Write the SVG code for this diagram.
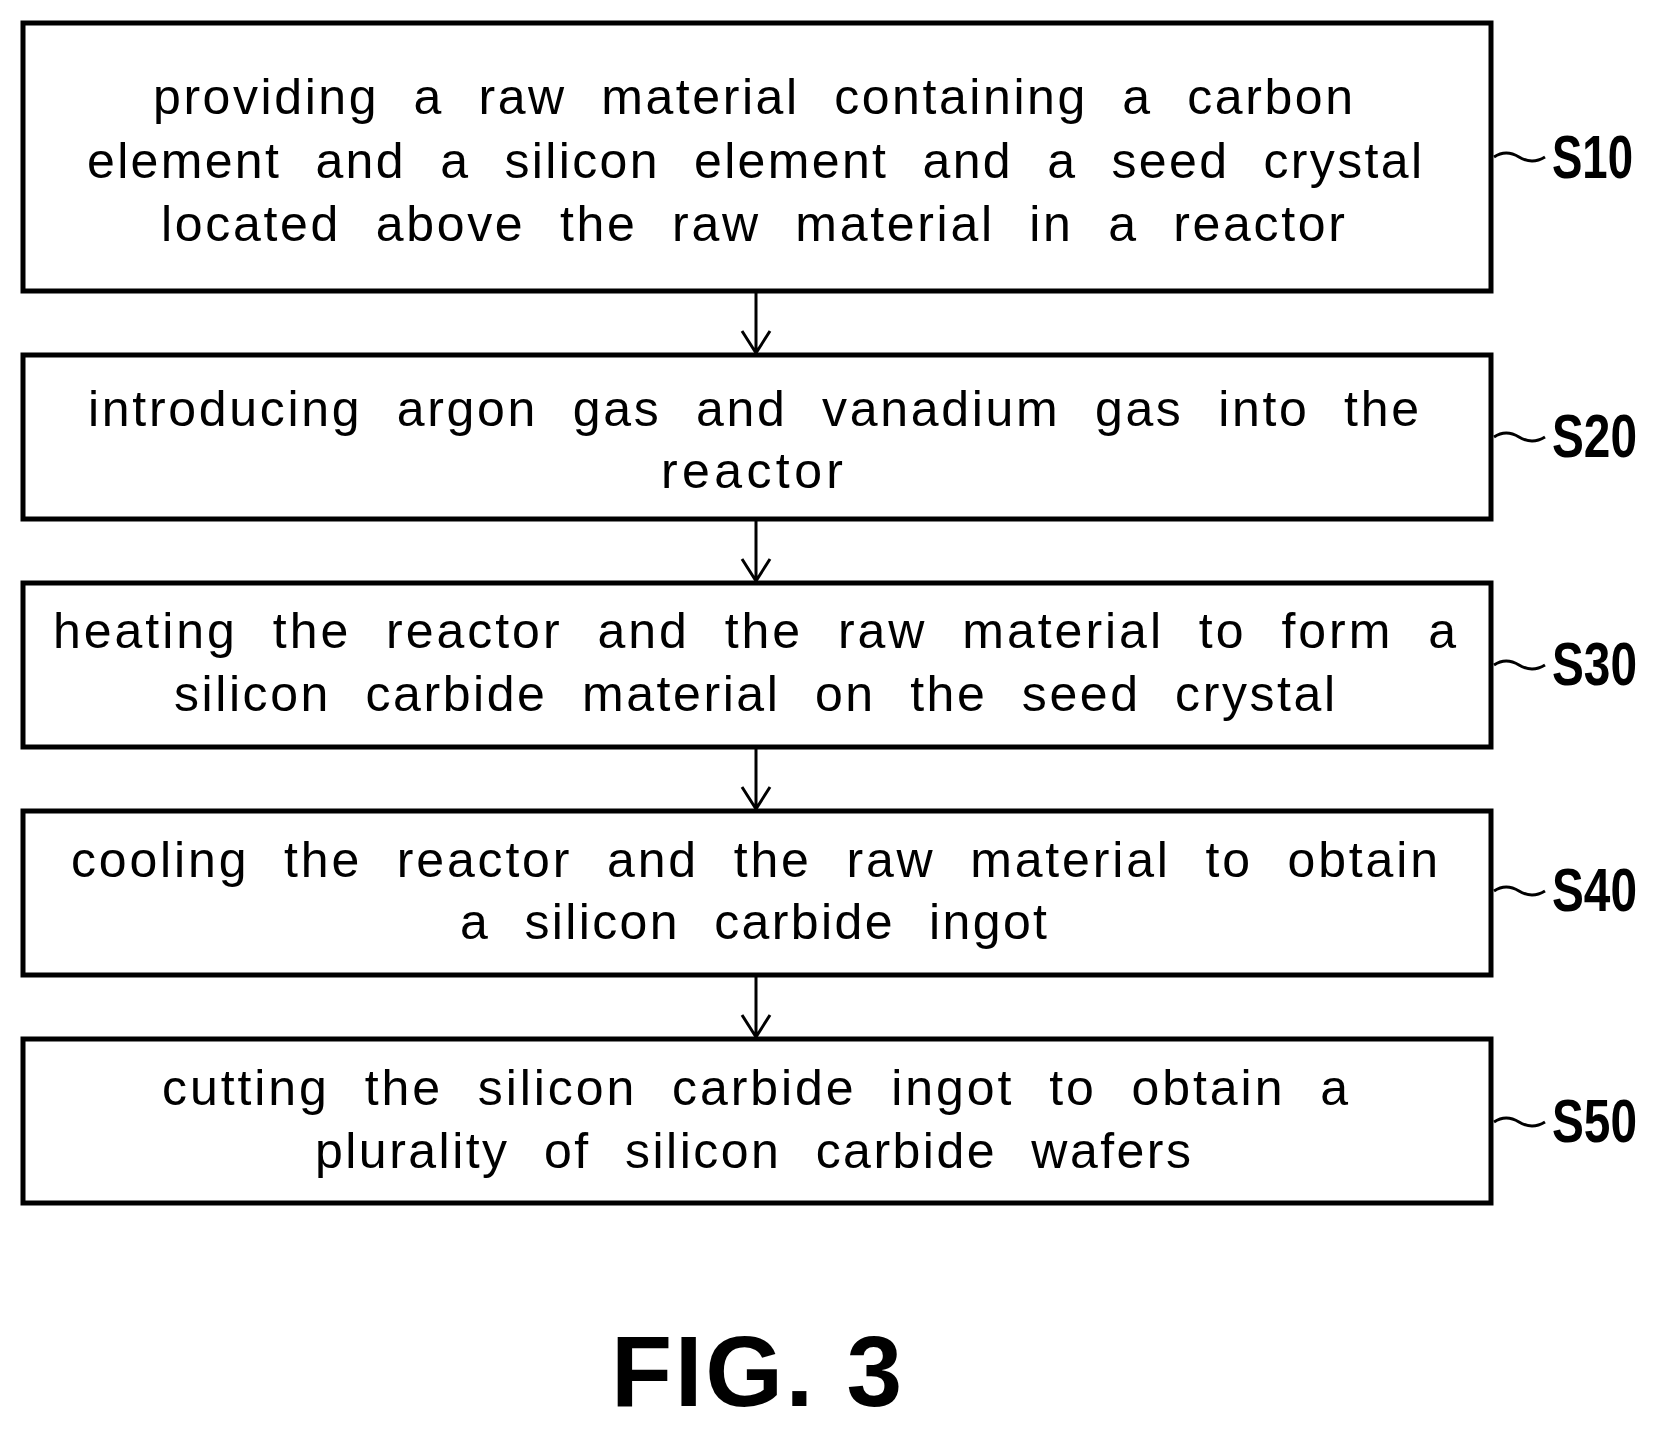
<svg xmlns="http://www.w3.org/2000/svg" width="1660" height="1431" viewBox="0 0 1660 1431">
<style>
.b{fill:#fff;stroke:#000;stroke-width:5}
.t{font-family:"Liberation Sans",Arial,sans-serif;font-size:50px;fill:#000;word-spacing:18px}
.l{font-family:"Liberation Sans",Arial,sans-serif;font-size:62px;font-weight:bold;fill:#000}
.c{fill:none;stroke:#000;stroke-width:3}
</style>
<rect width="1660" height="1431" fill="#fff"/>
<g id="s10"><rect class="b" x="23" y="23" width="1468" height="268"/>
<text class="t" x="153" y="114" textLength="1200" lengthAdjust="spacing">providing a raw material containing a carbon</text>
<text class="t" x="87" y="178" textLength="1335" lengthAdjust="spacing">element and a silicon element and a seed crystal</text>
<text class="t" x="161" y="241" textLength="1184" lengthAdjust="spacing">located above the raw material in a reactor</text>
<path class="c" d="M1494 157 q12 -8 25 0 t26 0"/><text class="l" x="1552" y="178" textLength="81" lengthAdjust="spacingAndGlyphs">S10</text></g>
<g id="s20"><rect class="b" x="23" y="355" width="1468" height="164"/>
<text class="t" x="88" y="426" textLength="1331" lengthAdjust="spacing">introducing argon gas and vanadium gas into the</text>
<text class="t" x="661" y="488" textLength="182" lengthAdjust="spacing">reactor</text>
<path class="c" d="M1494 437 q12 -8 25 0 t26 0"/><text class="l" x="1552" y="457" textLength="85" lengthAdjust="spacingAndGlyphs">S20</text></g>
<g id="s30"><rect class="b" x="23" y="583" width="1468" height="164"/>
<text class="t" x="53" y="648" textLength="1403" lengthAdjust="spacing">heating the reactor and the raw material to form a</text>
<text class="t" x="174" y="711" textLength="1161" lengthAdjust="spacing">silicon carbide material on the seed crystal</text>
<path class="c" d="M1494 665 q12 -8 25 0 t26 0"/><text class="l" x="1552" y="685" textLength="85" lengthAdjust="spacingAndGlyphs">S30</text></g>
<g id="s40"><rect class="b" x="23" y="811" width="1468" height="164"/>
<text class="t" x="71" y="877" textLength="1367" lengthAdjust="spacing">cooling the reactor and the raw material to obtain</text>
<text class="t" x="460" y="939" textLength="587" lengthAdjust="spacing">a silicon carbide ingot</text>
<path class="c" d="M1494 891 q12 -8 25 0 t26 0"/><text class="l" x="1552" y="911" textLength="85" lengthAdjust="spacingAndGlyphs">S40</text></g>
<g id="s50"><rect class="b" x="23" y="1039" width="1468" height="164"/>
<text class="t" x="162" y="1105" textLength="1186" lengthAdjust="spacing">cutting the silicon carbide ingot to obtain a</text>
<text class="t" x="315" y="1168" textLength="876" lengthAdjust="spacing">plurality of silicon carbide wafers</text>
<path class="c" d="M1494 1122 q12 -8 25 0 t26 0"/><text class="l" x="1552" y="1142" textLength="85" lengthAdjust="spacingAndGlyphs">S50</text></g>
<g id="connectors" class="c">
<path d="M756 293V353M742 331L756 353L770 331"/>
<path d="M756 521V581M742 559L756 581L770 559"/>
<path d="M756 749V809M742 787L756 809L770 787"/>
<path d="M756 977V1037M742 1015L756 1037L770 1015"/>
</g>
<text x="611" y="1406" font-family="Liberation Sans,Arial,sans-serif" font-size="100" font-weight="bold" textLength="291" lengthAdjust="spacing">FIG. 3</text>
</svg>
